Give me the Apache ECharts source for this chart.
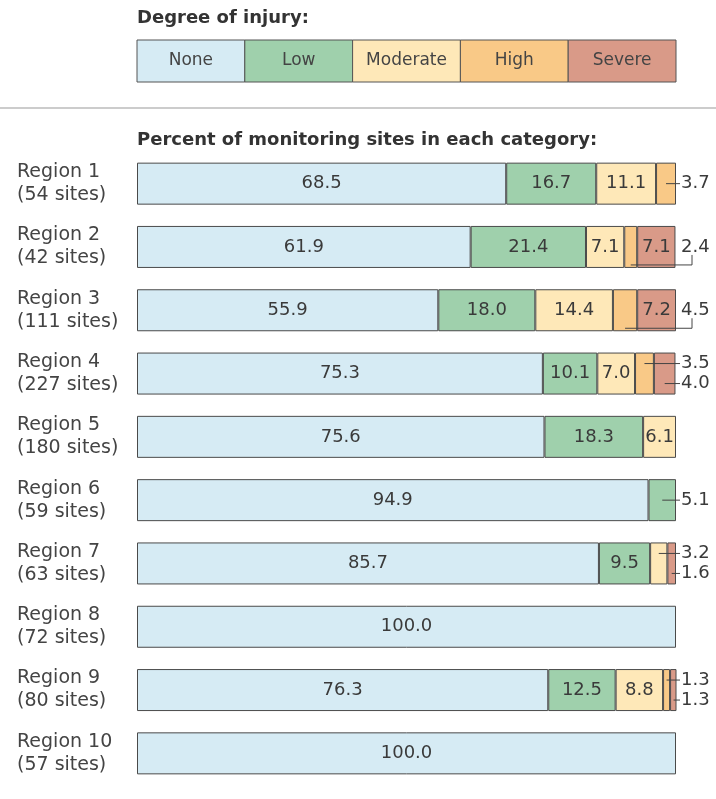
<!DOCTYPE html>
<html>
<head>
<meta charset="utf-8">
<script src="https://cdn.jsdelivr.net/npm/echarts@6/dist/echarts.min.js"></script>
<style>
html, body { margin: 0; background: #fff; }
#main { width: 716px; height: 799px; }
</style>
</head>
<body>
<div id="main"></div>
<script>
var regions = ['Region 1', 'Region 2', 'Region 3', 'Region 4', 'Region 5',
               'Region 6', 'Region 7', 'Region 8', 'Region 9', 'Region 10'];
var sites = [54, 42, 111, 227, 180, 59, 63, 72, 80, 57];
var levels = ['None', 'Low', 'Moderate', 'High', 'Severe'];

var none     = [68.5, 61.9, 55.9, 75.3, 75.6, 94.9, 85.7, 100.0, 76.3, 100.0];
var low      = [16.7, 21.4, 18.0, 10.1, 18.3, 5.1, 9.5, 0, 12.5, 0];
var moderate = [11.1, 7.1, 14.4, 7.0, 6.1, 0, 3.2, 0, 8.8, 0];
var high     = [3.7, 2.4, 4.5, 3.5, 0, 0, 0, 0, 1.3, 0];
var severe   = [0, 7.1, 7.2, 4.0, 0, 0, 1.6, 0, 1.3, 0];

var colors = ['#d6ebf4', '#9fd0ac', '#fee8b8', '#f9c987', '#d99a88'];
var values = [none, low, moderate, high, severe];

var barLeft = 137, barRight = 676;
var font = 'DejaVu Sans';

// small slices get their number outside the bar with a leader line
function outside(s, i) {
    var v = values[s][i];
    return v > 0 && v < 5.5;
}

var myChart = echarts.init(document.getElementById('main'));

var series = levels.map(function (name, s) {
    return {
        name: name,
        type: 'bar',
        stack: 'all',
        barWidth: 42,
        itemStyle: { color: colors[s], borderColor: '#4a4a4a', borderWidth: 1 },
        label: {
            position: 'inside',
            color: '#3a3a3a',
            fontSize: 18,
            fontFamily: font,
            formatter: function (p) { return p.value.toFixed(1); }
        },
        data: values[s].map(function (v, i) {
            return {
                value: v,
                label: { show: v > 0 && !outside(s, i) },
                itemStyle: v > 0 ? {} : { borderWidth: 0 }
            };
        })
    };
});

// leader-line labels
var calloutData = [];
for (var i = 0; i < regions.length; i++) {
    for (var s = 0; s < levels.length; s++) {
        if (outside(s, i)) calloutData.push([0, i, s]);
    }
}

series.push({
    type: 'custom',
    silent: true,
    encode: { x: 0, y: 1 },
    data: calloutData,
    renderItem: function (params, api) {
        var i = api.value(1), s = api.value(2);
        var start = 0;
        for (var k = 0; k < s; k++) start += values[k][i];
        var v = values[s][i];
        var list = [];
        for (k = 0; k < levels.length; k++) if (outside(k, i)) list.push(k);
        var dy = list.length > 1 ? (list.indexOf(s) === 0 ? -10 : 10) : 0;
        var cx = api.coord([start + v / 2, i])[0];
        var cyMid = api.coord([0, i])[1];
        var right = api.coord([100, i])[0];
        var cy = cyMid + dy;
        var bottom = cyMid + 21 - 3;
        // a labelled slice after this one blocks the straight line
        var blocked = false;
        for (k = s + 1; k < levels.length; k++) if (values[k][i] > 0 && !outside(k, i)) blocked = true;
        var pts = blocked
            ? [[cx, bottom], [right + 16, bottom], [right + 16, cy + 8]]
            : [[cx, cy], [right + 4, cy]];
        return {
            type: 'group',
            children: [
                { type: 'polyline', shape: { points: pts }, style: { stroke: '#444', lineWidth: 1, fill: null } },
                {
                    type: 'text', x: right + 5, y: cy,
                    style: { text: v.toFixed(1), fill: '#3a3a3a', font: '18px "' + font + '"', verticalAlign: 'middle' }
                }
            ]
        };
    },
    z: 5
});

var cellW = (barRight - barLeft) / levels.length;
var legendItems = [];
levels.forEach(function (name, k) {
    legendItems.push({
        type: 'rect',
        shape: { x: barLeft + k * cellW, y: 40, width: cellW, height: 42 },
        style: { fill: colors[k], stroke: '#555', lineWidth: 1 }
    });
    legendItems.push({
        type: 'text',
        x: barLeft + k * cellW + cellW / 2,
        y: 61,
        style: { text: name, fill: '#444', font: '17px "' + font + '"', align: 'center', verticalAlign: 'middle' }
    });
});

var option = {
    backgroundColor: '#fff',
    animation: false,
    grid: { left: barLeft, right: 716 - barRight, top: 152, bottom: 14 },
    xAxis: { type: 'value', min: 0, max: 100, show: false },
    yAxis: {
        type: 'category',
        inverse: true,
        data: regions,
        axisLine: { show: false },
        axisTick: { show: false },
        axisLabel: {
            align: 'left',
            margin: barLeft - 17,
            color: '#444',
            fontSize: 19,
            lineHeight: 23,
            fontFamily: font,
            formatter: function (v, i) { return v + '\n(' + sites[i] + ' sites)'; }
        }
    },
    graphic: [
        {
            type: 'text', x: barLeft, y: 18,
            style: { text: 'Degree of injury:', fill: '#333', font: 'bold 18px "' + font + '"', verticalAlign: 'middle' }
        },
        {
            type: 'line', shape: { x1: 0, y1: 108, x2: 716, y2: 108 },
            style: { stroke: '#999', lineWidth: 1 }
        },
        {
            type: 'text', x: barLeft, y: 140,
            style: { text: 'Percent of monitoring sites in each category:', fill: '#333', font: 'bold 18px "' + font + '"', verticalAlign: 'middle' }
        }
    ].concat(legendItems),
    series: series
};

myChart.setOption(option);
</script>
</body>
</html>
